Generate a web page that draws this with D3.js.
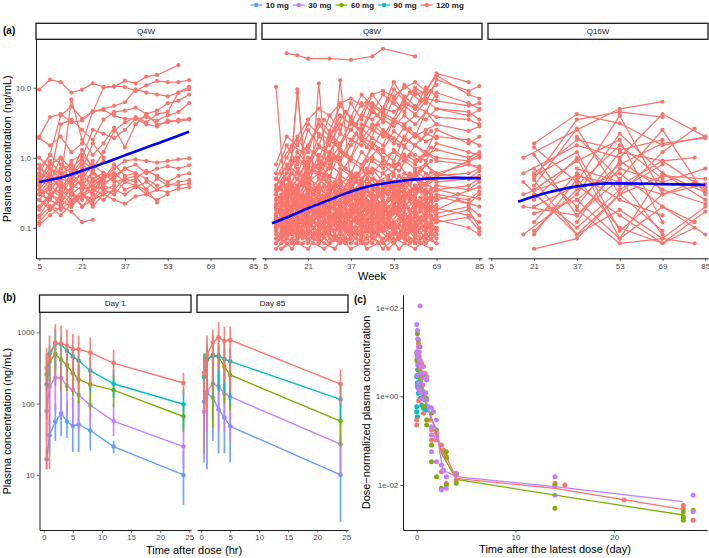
<!DOCTYPE html>
<html>
<head>
<meta charset="UTF-8">
<title>PK plots</title>
<script src="https://d3js.org/d3.v7.min.js"></script>
<style>
  body { margin: 0; background: #fff; }
  svg text { font-family: "Liberation Sans", Arial, sans-serif; }
</style>
</head>
<body>
<svg width="709" height="558"></svg>
<script>
// ---------- data ----------
var doses = ["10 mg", "30 mg", "60 mg", "90 mg", "120 mg"];
var doseColors = ["#619CFF", "#C77CFF", "#7CAE00", "#00BFC4", "#F8766D"];

// (a) individual trough concentrations by regimen
var regimens = ["Q4W", "Q8W", "Q16W"];
var weekTicks = [5, 21, 37, 53, 69, 85];

var weeksQ4W = [5, 9, 13, 17, 21, 25, 29, 33, 37, 41, 45, 49, 53, 57, 61];
var subjQ4W = [
  [9.4, 13, 12, 8.5, 9.4, 11.5, 10.3, 10.3, 12.6, 11.5, 14.4, 15.2, null, 21],
  [2.0, 3.8, 4.2, 3.2, 3.4, 4.5, 10.0, 10.5, 10.2, 9.0, 10.8, 12.5, 12.0, 12.0, 12.8],
  [0.6, 1.1, 4.0, 5.4, 3.6, 4.6, 5.0, 5.5, 6.2, 9.5, 8.5, 8.0, 7.5, 8.5, 10.3],
  [null, 0.5, 3.0, 3.5, 2.5, 1.8, 3.5, 4.5, 4.7, 5.2, 4.2, 4.7, 6.0, 6.5, 8.0],
  [1.9, 1.5, 2.0, 1.2, 1.6, 4.6, 4.8, 4.0, 3.6, 3.6, 3.8, 3.4, 4.0, 4.5, 6.0],
  [0.35, 0.55, 0.45, 6.8, 1.8, 1.1, 1.6, 2.7, 1.4, 3.0, 4.2, 3.0, 3.2, 3.5, 3.6],
  [0.5, 0.8, 1.0, 0.7, 1.0, 2.5, 2.2, 1.9, 2.5, 3.6, 3.0, 2.8, 3.4, 3.3, 3.5],
  [0.3, 0.4, 0.5, 0.6, 0.9, 0.7, 1.2, 2.4, 3.2, 3.8, 3.2, 4.2, 4.5, 8.5, 9.5],
  [0.45, 0.7, 0.6, 0.55, 0.8, 0.6, 0.5, 0.7, 0.9, 0.95, 0.9, 0.85, 0.9, 0.95, 0.98],
  [0.3, 0.35, 0.5, 0.45, 0.6, 0.5, 0.4, 0.55, 0.7, 0.8, 0.6, 0.7, 0.75, 0.7, 0.78],
  [0.25, 0.4, 0.3, 0.35, 0.5, 0.45, 0.55, 0.6, 0.45, 0.5, 0.65, 0.55, 0.45, 0.55, 0.6],
  [0.2, 0.3, 0.35, 0.25, 0.3, 0.4, 0.35, 0.3, 0.45, 0.4, 0.35, 0.5, 0.4, 0.45, 0.48],
  [0.15, 0.25, 0.2, 0.3, 0.28, 0.35, 0.3, 0.35, 0.3, 0.38, 0.45, 0.35, 0.42, 0.4, 0.43],
  [0.35, 0.3, 0.25, 0.2, 0.3, 0.25, 0.3, 0.25, 0.22, 0.28, 0.3, 0.35, 0.32, 0.36, 0.38],
  [0.5, 0.45, 0.6, 0.4, 0.35, 0.5, 0.6, 0.45, 0.5, 0.55, 0.35, 0.23],
  [0.11, 0.15, 0.2, 0.17, 0.12, 0.13],
  [0.14, 0.2, 0.18, 0.25, 0.3, 0.22],
  [0.25, 0.18, 0.3, 0.22, 0.35, 0.4, 0.5],
  [0.6, 0.5, 0.7, 0.8, 0.55, 0.9],
  [0.7, 1.1, 0.8, 0.6, 1.3, 0.7, 0.9],
  [0.4, 0.6, 0.35, 0.5, 0.7, 1.6, 1.0],
  [0.3, 0.25, 0.45, 0.3, 0.25, 0.5, 0.35, 0.4],
  [0.18, 0.3, 0.22, 0.4, 0.45, 0.3, 0.6, 0.5, 0.7],
  [0.55, 0.35, 0.28, 0.5, 0.4, 0.65, 0.45],
  [1.0, 0.7, 0.5, 0.9, 1.1, 0.75],
  [0.8, 0.45, 1.0, 0.4, 0.6, 0.35, 0.5, 0.6],
  [0.45, 0.9, 0.6, 0.7, 0.5, 0.8, 0.6, 0.55, 0.7, 0.6],
  [0.12, 0.18, 0.25, 0.2, 0.3, 0.25, 0.35, 0.3],
  [0.3, 0.5, 0.4, 0.3, 0.2, 0.25, 0.45, 0.5, 0.35, 0.4, 0.3, 0.25, 0.3],
  [0.2, 0.28, 0.45, 0.3, 0.4, 0.6, 0.4, 0.35, 0.5, 0.45],
  [0.7, 0.55, 0.35, 0.6, 0.4, 0.3, 0.5, 0.8, 0.55, 0.6, 0.5, 0.4],
  [0.25, 0.2, 0.15, 0.22, 0.3, 0.2, 0.3],
  [0.4, 0.2, 0.25, 0.35, 0.2, 0.3, 0.25, 0.35]
];

var weeksQ8W = [9, 13, 17, 21, 25, 29, 33, 37, 41, 45, 49, 53, 57, 61, 65, 69, 73, 77, 81, 85];
var subjQ8W = [
  [0.12, 0.08, 0.15, 0.1, 0.07, 0.12, 0.09, 0.14, 0.1, 0.08, 0.13, 0.09, 0.11, 0.07, 0.1, 0.09],
  [0.2, 0.15, 0.25, 0.12, 0.18, 0.3, 0.14, 0.2, 0.25, 0.16, 0.22, 0.3, 0.18, 0.24, 0.2, 0.28, null, null, 0.22, 0.3],
  [0.08, 0.06, 0.07, 0.09, 0.06, 0.08, 0.07, 0.06, 0.09, 0.07, 0.06, 0.08, 0.07, 0.06, 0.08, 0.06],
  [0.3, 0.22, 0.18, 0.35, 0.25, 0.2, 0.4, 0.3, 0.22, 0.35, 0.28, 0.45, 0.3, 0.38, 0.32, 0.4, null, null, 0.35, 0.45],
  [0.15, 0.25, 0.1, 0.2, 0.3, 0.12, 0.22, 0.16, 0.35, 0.2, 0.15, 0.25, 0.35, 0.2, 0.3, 0.18, null, 0.25, null, 0.2],
  [0.06, 0.1, 0.08, 0.12, 0.07, 0.1, 0.13, 0.08, 0.11, 0.15, 0.09, 0.12, 0.08, 0.14, 0.1, 0.12],
  [0.1, 0.14, 0.2, 0.09, 0.16, 0.11, 0.18, 0.25, 0.13, 0.19, 0.1, 0.16, 0.22, 0.12, 0.17, 0.21],
  [0.25, 0.35, 0.2, 0.28, 0.15, 0.32, 0.24, 0.4, 0.28, 0.2, 0.36, 0.26, 0.5, 0.3, 0.42, 0.35, null, null, 0.4, 0.5],
  [0.07, 0.09, 0.12, 0.06, 0.1, 0.08, 0.06, 0.11, 0.07, 0.13, 0.06, 0.09, 0.07, 0.1, 0.06, 0.08],
  [0.18, 0.12, 0.3, 0.22, 0.14, 0.2, 0.16, 0.12, 0.2, 0.26, 0.14, 0.18, 0.24, 0.15, 0.22, 0.16, null, null, 0.2, 0.15],
  [0.4, 0.3, 0.5, 0.35, 0.25, 0.45, 0.3, 0.55, 0.4, 0.3, 0.6, 0.45, 0.35, 0.5, 0.42, 0.55, null, null, 0.6, 0.7],
  [0.09, 0.13, 0.07, 0.16, 0.1, 0.14, 0.08, 0.12, 0.17, 0.09, 0.14, 0.11, 0.08, 0.15, 0.12, 0.1],
  [0.14, 0.1, 0.12, 0.18, 0.24, 0.15, 0.1, 0.2, 0.13, 0.18, 0.25, 0.12, 0.16, 0.1, 0.14, 0.19, null, null, 0.15, 0.12],
  [0.05, 0.07, 0.06, 0.05, 0.08, 0.06, 0.07, 0.05, 0.06, 0.08, 0.05, 0.07, 0.06, 0.05, 0.07, 0.06],
  [0.22, 0.16, 0.14, 0.25, 0.19, 0.28, 0.2, 0.15, 0.3, 0.22, 0.18, 0.32, 0.21, 0.27, 0.18, 0.25, null, 0.3, null, 0.26],
  [0.11, 0.18, 0.09, 0.13, 0.2, 0.1, 0.15, 0.09, 0.14, 0.11, 0.2, 0.1, 0.13, 0.18, 0.09, 0.15],
  [0.3, 0.2, 0.4, 0.6, 0.3, 0.25, 0.5, 0.35, 0.7, 0.4, 0.3, 0.55, 0.4, 0.65, 0.5, 0.6, null, null, 0.8, 0.7],
  [0.06, 0.08, 0.11, 0.07, 0.09, 0.06, 0.12, 0.08, 0.06, 0.1, 0.07, 0.06, 0.09, 0.11, 0.07, 0.09],
  [0.16, 0.22, 0.13, 0.11, 0.17, 0.22, 0.13, 0.3, 0.17, 0.12, 0.2, 0.27, 0.15, 0.2, 0.26, 0.14, null, null, 0.18, 0.1],
  [0.13, 0.09, 0.2, 0.15, 0.11, 0.09, 0.14, 0.18, 0.1, 0.13, 0.09, 0.2, 0.12, 0.09, 0.16, 0.13],
  [0.5, 0.35, 0.3, 0.45, 0.6, 0.4, 0.3, 0.5, 0.38, 0.7, 0.45, 0.35, 0.6, 0.5, 0.8, 0.55, null, null, 0.9, 1.1],
  [0.07, 0.11, 0.08, 0.14, 0.06, 0.09, 0.11, 0.07, 0.12, 0.08, 0.1, 0.06, 0.12, 0.08, 0.11, 0.07],
  [0.2, 0.28, 0.35, 0.22, 0.4, 0.26, 0.2, 0.32, 0.45, 0.25, 0.34, 0.22, 0.3, 0.4, 0.25, 0.35, null, 0.3, null, 0.38],
  [0.09, 0.07, 0.1, 0.13, 0.08, 0.16, 0.11, 0.09, 0.08, 0.12, 0.15, 0.1, 0.07, 0.11, 0.13, 0.1],
  [0.35, 0.5, 0.25, 0.4, 0.3, 0.55, 0.45, 0.3, 0.35, 0.5, 0.4, 0.3, 0.45, 0.35, 0.6, 0.45, null, null, 0.5, 0.65],
  [0.12, 0.16, 0.24, 0.14, 0.1, 0.13, 0.2, 0.15, 0.24, 0.14, 0.1, 0.17, 0.12, 0.22, 0.15, 0.13, null, null, 0.1, 0.08],
  [0.06, 0.09, 0.07, 0.08, 0.12, 0.07, 0.06, 0.09, 0.08, 0.06, 0.1, 0.08, 0.09, 0.06, 0.08, 0.1],
  [0.26, 0.18, 0.22, 0.3, 0.16, 0.24, 0.35, 0.2, 0.15, 0.28, 0.22, 0.17, 0.3, 0.24, 0.2, 0.3, null, null, 0.25, 0.33],
  [0.1, 0.12, 0.16, 0.22, 0.13, 0.18, 0.11, 0.15, 0.2, 0.12, 0.17, 0.22, 0.1, 0.16, 0.19, 0.12, null, null, 0.14, 0.09],
  [0.15, 0.11, 0.09, 0.14, 0.11, 0.17, 0.13, 0.1, 0.12, 0.16, 0.12, 0.09, 0.15, 0.12, 0.1, 0.14],
  [null, 31, 29, 26, null, 26, null, 25, null, 28, 36, null, null, 28],
  [10.3, 0.15, 0.3, 0.2, 0.25, 0.18, 0.22, 0.3, 0.25, 0.2, 0.35, 0.3, 0.4, 0.3, 0.35, 0.25],
  [0.2, 0.12, 9.5, 0.15, 0.3, 0.2, 0.15, 0.25, 0.4, 0.3, 0.2, 0.3, 0.25, 0.4, 0.3, 0.35],
  [0.1, 0.2, 8.5, 0.3, 0.5, 0.35, 0.4, 0.6, 0.5, 0.7, 0.6, 0.8, 0.9, 0.7, 0.8, 0.6, null, null, 0.5, 0.55],
  [0.25, 0.3, 0.2, 0.15, 11.5, 0.2, 0.25, 0.3, 0.35, 0.25, 0.3, 0.4, 0.3, 0.35, 0.3, 0.4],
  [0.15, 0.2, 0.25, 0.3, 0.2, 0.35, 12.8, 0.4, 0.3, 0.5, 0.45, 0.35, 0.5, 0.6, 0.4, 0.5],
  [0.5, 1.0, 2.0, 3.5, 5.0, 4.0, 6.0, 7.0, 5.5, 8.0, 9.0, 7.5, 10.0, 12.0, 9.0, 15.0, null, null, 8.0, 7.0],
  [0.3, 0.6, 1.2, 0.8, 2.0, 1.5, 3.0, 2.5, 4.0, 3.5, 5.0, 4.5, 6.0, 5.0, 7.0, 6.5, null, null, 5.5, 6.0],
  [0.2, 0.4, 0.3, 0.8, 0.6, 1.2, 1.0, 1.8, 1.5, 2.5, 2.0, 3.5, 3.0, 4.0, 3.5, 5.0, null, null, 4.5, 3.5],
  [0.4, 0.3, 0.7, 0.5, 1.1, 0.9, 1.5, 2.5, 1.8, 3.0, 2.2, 1.6, 2.8, 2.0, 2.5, 3.0, null, null, 2.4, 2.8],
  [0.6, 1.5, 0.8, 2.5, 1.5, 4.0, 2.5, 6.0, 3.5, 8.0, 5.0, 12.0, 7.0, 10.0, 8.0, 11.0],
  [0.25, 0.35, 0.6, 0.45, 0.9, 0.7, 1.3, 1.0, 1.8, 1.4, 2.5, 1.9, 1.5, 2.2, 1.7, 2.0, null, null, 1.8, 1.5],
  [0.15, 0.3, 0.25, 0.5, 0.4, 0.8, 0.6, 1.0, 0.8, 1.4, 1.0, 1.2, 0.9, 1.5, 1.1, 1.3, null, null, 1.0, 1.2],
  [null, null, 0.5, 1.0, 0.7, 2.0, 1.5, 3.5, 2.2, 5.0, 3.2, 7.0, 4.5, 9.0, 6.0, 13.0, null, null, 9.0, 10.5],
  [0.35, 0.5, 0.4, 0.7, 0.55, 1.0, 0.8, 0.6, 1.2, 0.9, 0.7, 1.3, 1.0, 0.8, 1.2, 0.9, null, null, 0.8, 0.75],
  [0.4, 0.8, 0.6, 1.4, 1.0, 2.2, 1.6, 3.2, 2.5, 4.5, 3.5, 2.8, 4.0, 3.0, 4.5, 3.8, null, null, 3.5, 3.0],
  [null, null, null, 1.5, 3.0, 2.0, 4.0, 3.0, 6.0, 4.5, 8.0, 6.0, 11.0, 8.0, 9.0, 16.0, null, null, 12.0],
  [0.12, 0.2, 0.3, 0.22, 0.4, 0.32, 0.55, 0.45, 0.7, 0.6, 0.9, 0.75, 1.1, 0.9, 1.2, 1.0, null, null, 0.9, 1.0],
  [0.2, 0.3, 0.5, 0.9, 1.5, 1.2, 2.2, 1.8, 3.0, 2.6, 4.0, 3.2, 5.5, 4.2, 6.5, 5.0, null, null, 4.0, 4.8],
  [0.5, 0.4, 0.9, 0.7, 0.6, 1.8, 1.3, 1.0, 2.6, 1.9, 1.5, 3.5, 2.6, 2.0, 4.5, 3.0],
  [0.3, 0.5, 0.35, 0.6, 0.8, 0.55, 1.2, 0.9, 0.7, 1.6, 1.2, 0.9, 2.0, 1.5, 1.2, 2.5, null, null, 1.6, 2.0],
  [null, 0.7, 1.8, 1.2, 3.5, 2.4, 5.5, 3.8, 8.0, 5.5, 4.2, 9.5, 6.5, 5.0, 10.0, 7.5],
  [0.15, 0.25, 0.2, 0.45, 0.35, 0.3, 0.7, 0.55, 0.45, 1.0, 0.8, 0.6, 1.4, 1.1, 0.9, 1.6, null, null, 1.2, 1.1],
  [0.8, 2.0, 1.5, 3.0, 2.2, 1.8, 4.0, 3.0, 2.4, 6.0, 4.5, 3.5, 7.5, 5.5, 4.5, 8.5, null, null, 6.0, 5.0],
  [0.4, 0.6, 1.0, 0.75, 1.4, 1.1, 0.9, 1.5, 2.0, 1.6, 1.3, 2.4, 1.8, 1.5, 2.2, 1.9]
];
// Q8W subjects sampled on the in-between visits
var weeksQ8Wb = [11, 15, 19, 23, 27, 31, 35, 39, 43, 47, 51, 55, 59, 63, 67];
var subjQ8Wb = [
  [0.08, 0.12, 0.09, 0.15, 0.1, 0.07, 0.11, 0.14, 0.09, 0.12, 0.08, 0.13, 0.1, 0.07, 0.11],
  [0.2, 0.3, 0.18, 0.25, 0.4, 0.22, 0.3, 0.2, 0.35, 0.28, 0.45, 0.3, 0.25, 0.38, 0.3],
  [0.05, 0.06, 0.08, 0.06, 0.05, 0.07, 0.06, 0.09, 0.05, 0.06, 0.08, 0.05, 0.07, 0.06, 0.05],
  [0.15, 0.1, 0.2, 0.13, 0.17, 0.25, 0.14, 0.19, 0.12, 0.22, 0.16, 0.28, 0.18, 0.13, 0.2],
  [0.35, 0.25, 0.45, 0.3, 0.6, 0.4, 0.3, 0.5, 0.7, 0.45, 0.55, 0.8, 0.5, 0.65, 0.9],
  [0.1, 0.08, 0.13, 0.18, 0.11, 0.09, 0.16, 0.12, 0.2, 0.14, 0.1, 0.17, 0.24, 0.13, 0.18],
  [0.06, 0.09, 0.07, 0.1, 0.08, 0.12, 0.07, 0.06, 0.1, 0.08, 0.11, 0.07, 0.09, 0.12, 0.08],
  [0.25, 0.18, 0.3, 0.22, 0.16, 0.28, 0.35, 0.24, 0.18, 0.3, 0.4, 0.26, 0.32, 0.22, 0.36],
  [0.12, 0.2, 0.15, 0.1, 0.18, 0.13, 0.22, 0.3, 0.16, 0.12, 0.2, 0.15, 0.11, 0.19, 0.25],
  [0.45, 0.6, 0.4, 0.8, 0.55, 1.0, 0.7, 0.5, 0.9, 1.3, 0.8, 0.65, 1.1, 0.9, 1.4],
  [0.07, 0.05, 0.09, 0.07, 0.13, 0.08, 0.06, 0.1, 0.07, 0.09, 0.14, 0.08, 0.06, 0.1, 0.07],
  [0.18, 0.14, 0.22, 0.3, 0.2, 0.15, 0.26, 0.18, 0.34, 0.22, 0.17, 0.25, 0.3, 0.2, 0.28],
  [0.3, 0.4, 0.25, 0.35, 0.5, 0.32, 0.28, 0.45, 0.6, 0.38, 0.3, 0.55, 0.42, 0.7, 0.5],
  [0.09, 0.14, 0.11, 0.08, 0.12, 0.16, 0.1, 0.13, 0.09, 0.15, 0.11, 0.08, 0.14, 0.1, 0.12],
  [0.14, 0.2, 0.28, 0.16, 0.24, 0.18, 0.14, 0.26, 0.2, 0.32, 0.16, 0.22, 0.18, 0.27, 0.15],
  [0.6, 0.9, 0.5, 1.2, 0.8, 1.6, 1.1, 2.2, 1.4, 3.0, 2.0, 1.5, 2.6, 1.8, 2.4],
  [0.05, 0.07, 0.06, 0.08, 0.06, 0.05, 0.09, 0.07, 0.06, 0.08, 0.05, 0.07, 0.1, 0.06, 0.08],
  [0.22, 0.16, 0.12, 0.2, 0.28, 0.18, 0.24, 0.14, 0.2, 0.17, 0.26, 0.19, 0.14, 0.23, 0.18],
  [0.11, 0.09, 0.15, 0.12, 0.09, 0.14, 0.19, 0.12, 0.1, 0.16, 0.13, 0.2, 0.12, 0.17, 0.13],
  [0.4, 0.3, 0.55, 0.35, 0.28, 0.45, 0.35, 0.6, 0.42, 0.33, 0.5, 0.4, 0.58, 0.45, 0.62],
  [0.08, 0.11, 0.16, 0.1, 0.13, 0.09, 0.12, 0.17, 0.11, 0.08, 0.13, 0.18, 0.1, 0.14, 0.09],
  [0.26, 0.35, 0.2, 0.3, 0.22, 0.4, 0.28, 0.35, 0.5, 0.3, 0.42, 0.33, 0.6, 0.4, 0.5],
  [0.16, 0.12, 0.18, 0.25, 0.15, 0.21, 0.3, 0.17, 0.24, 0.19, 0.14, 0.22, 0.28, 0.18, 0.24],
  [0.9, 1.5, 1.2, 2.0, 3.5, 2.5, 4.5, 3.0, 6.0, 4.0, 7.0, 5.0, 8.5, 6.5, 9.0],
  [0.07, 0.1, 0.08, 0.12, 0.09, 0.15, 0.1, 0.08, 0.13, 0.1, 0.07, 0.11, 0.09, 0.14, 0.1]
];

var weeksQ16W = [17, 21, 37, 53, 69, 81, 85];
var subjQ16W = [
  [null, 1.6, 4.2, 3.1, 1.5, null, 2.0],
  [1.0, null, 2.5, 5.0, 6.3, null, null],
  [null, 0.5, 3.5, 4.5, 3.8, null, null],
  [null, 1.4, 0.45, 4.0, 0.3, null, null],
  [0.6, null, 1.5, 1.0, 4.2, null, 2.0],
  [null, 0.4, 2.6, 0.3, 1.2, 2.6, null],
  [null, 0.35, 0.9, 1.8, 0.12, null, null],
  [0.2, null, 0.15, 0.5, 2.5, null, 0.3],
  [null, 0.7, 0.2, 1.2, 0.9, null, 0.35],
  [null, 0.25, 1.0, 0.07, 0.6, null, 0.32],
  [null, 0.12, 0.6, 0.25, 0.15, null, null],
  [0.08, null, 0.3, 2.2, 0.6, null, 0.25],
  [null, 0.09, 0.35, 0.6, 0.2, 0.12, null],
  [null, 0.08, 0.5, 0.1, 0.06, null, 0.17],
  [0.3, null, 0.55, 0.4, 0.9, 1.0, null],
  [null, 0.55, 1.2, 0.09, 0.3, null, 0.42],
  [null, 1.1, 0.15, 0.7, 0.45, null, 0.7],
  [null, 0.48, 0.08, 0.18, 0.07, null, 0.2],
  [null, null, 0.4, 0.15, 0.06, 0.1, null],
  [null, 0.3, 0.1, 0.35, 0.8, null, null],
  [null, null, 0.7, 0.45, 0.3, 0.45, 0.38],
  [null, 0.16, 0.25, 0.8, 1.6, null, 1.9],
  [null, null, 2.0, 0.5, 0.08, null, null],
  [0.45, null, 0.08, 0.3, 0.55, null, 0.5],
  [null, 0.6, 1.8, 1.3, 1.8, null, null],
  [null, null, 0.25, 0.07, 0.2, null, 0.08],
  [null, 0.05, 0.07, 0.3, 0.09, null, null],
  [null, null, 0.12, 0.9, 0.35, null, 0.22],
  [null, 0.2, 0.4, 1.5, 0.5, null, null],
  [null, null, 0.18, 0.06, 0.07, 0.06, null]
];

// loess trend: [week, ng/mL]
var smoothQ4W = [[5, 0.45], [13, 0.52], [21, 0.65], [29, 0.83], [37, 1.08], [45, 1.4], [53, 1.8], [61, 2.35]];
var smoothQ8W = [[7.5, 0.116], [13, 0.14], [21, 0.19], [29, 0.25], [37, 0.33], [45, 0.4], [53, 0.45], [61, 0.49], [69, 0.51], [77, 0.515], [85.5, 0.51]];
var smoothQ16W = [[15, 0.235], [25, 0.31], [37, 0.39], [49, 0.43], [53, 0.43], [69, 0.42], [85, 0.41]];

// (b) mean profiles with error bars; rows = doses
var days = ["Day 1", "Day 85"];
var hourTicks = [0, 5, 10, 15, 20, 25];
var timesDay1 = [0.5, 1, 2, 3, 4, 5, 6, 8, 12, 24];
var meanDay1 = [
  [16.6, 36, 56, 73, 56, 49, 51, 42, 25, 10],
  [79, 172, 231, 231, 176, 155, 132, 95, 57, 25],
  [257, 387, 496, 409, 348, 266, 218, 186, 155, 66],
  [186, 500, 700, 680, 550, 460, 400, 290, 190, 98],
  [315, 440, 720, 690, 650, 580, 580, 520, 370, 195]
];
var loDay1 = [
  [12, 20, 30, 35, 33, 21, 21, 22, 20, 3.8],
  [30, 50, 80, 60, 70, 50, 40, 50, 35, 12],
  [150, 200, 250, 150, 150, 130, 100, 80, 90, 40],
  [60, 200, 300, 250, 300, 250, 200, 150, 120, 45],
  [12, 12, 180, 150, 200, 150, 160, 170, 230, 130]
];
var hiDay1 = [
  [25, 60, 100, 150, 110, 120, 110, 80, 30, 22],
  [150, 300, 500, 500, 400, 350, 300, 200, 100, 45],
  [400, 550, 700, 600, 550, 450, 350, 300, 250, 100],
  [500, 650, 1100, 900, 700, 650, 600, 450, 300, 160],
  [600, 900, 1300, 1250, 1100, 950, 900, 850, 570, 270]
];
var timesDay85 = [0.5, 1, 2, 3, 4, 5, 24];
var meanDay85 = [
  [106, 139, 122, 83, 64, 48, 10],
  [77, 147, 192, 172, 139, 125, 27],
  [238, 409, 480, 455, 330, 252, 57],
  [238, 431, 465, 470, 422, 391, 115],
  [271, 480, 716, 850, 755, 780, 188]
];
var loDay85 = [
  [20, 12, 30, 20, 20, 15, 2.2],
  [15, 40, 60, 40, 40, 30, 10],
  [150, 150, 45, 150, 100, 80, 25],
  [100, 200, 200, 150, 150, 100, 60],
  [20, 80, 200, 300, 200, 150, 100]
];
var hiDay85 = [
  [200, 250, 250, 250, 200, 200, 35],
  [200, 300, 400, 450, 350, 300, 60],
  [500, 600, 700, 650, 550, 450, 110],
  [500, 700, 900, 800, 700, 600, 200],
  [450, 900, 1100, 1400, 1200, 1200, 300]
];

// (c) dose-normalized concentration vs time after latest dose: [day, value]
var dayTicks = [0, 10, 20];
var ptsC = [
  [[0.08, 3], [0.17, 2], [0.3, 1.3]],
  [[0.34, 109], [0, 42], [0.07, 31], [0.1, 20], [0.17, 13.2], [0.27, 10.2], [0, 10.2], [0.34, 6.6], [0.5, 4.7],
   [0.68, 3.3], [0.84, 2.55], [1.0, 2.33], [0.5, 1.39], [0.84, 1.17], [1.0, 0.83], [1.18, 0.585], [1.5, 0.555],
   [1.69, 0.45], [1.5, 0.207], [2.0, 0.292], [1.5, 0.134], [2.0, 0.123], [1.5, 0.0565], [2.0, 0.0336],
   [2.5, 0.0283], [2.7, 0.0218], [3.0, 0.0154], [3.0, 0.0084], [2.5, 0.0077], [4.0, 0.0183], [14, 0.0154],
   [14, 0.0059], [28, 0.0059], [28, 0.0025], [0.05, 8], [0.1, 5], [0.2, 3], [0.15, 1.5], [0.3, 2], [0.4, 1.2], [0.6, 0.9]],
  [[0.07, 26], [0.17, 18.7], [0.27, 13.2], [0, 6.6], [0.34, 2.33], [0.5, 1.39], [0.68, 0.98], [0.84, 0.83],
   [1.0, 0.292], [1.0, 0.226], [1.5, 0.414], [1.5, 0.080], [1.5, 0.0336], [2.0, 0.174], [2.0, 0.0154],
   [2.5, 0.0084], [3.0, 0.0565], [3.0, 0.0436], [3.0, 0.0100], [4.0, 0.0168], [4.0, 0.0109], [14, 0.0100],
   [14, 0.0030], [27, 0.0025], [27, 0.0019], [27, 0.0016], [28, 0.0027], [0.1, 10], [0.2, 4], [0.3, 1.5],
   [0.5, 3], [0.7, 0.6], [0.9, 1.2], [1.0, 0.9]],
  [[0, 2.8], [0.07, 1.65], [0.17, 1.17], [0, 0.585], [0, 0.45], [0.07, 0.348], [0.34, 0.90], [0.5, 0.64],
   [0.68, 0.536], [1.0, 0.49], [0.1, 4], [0.2, 6], [0.05, 2.0]],
  [[0.17, 15.7], [0.34, 13.2], [0, 9.3], [0.5, 5.5], [0.34, 3.9], [0.68, 4.7], [0.84, 3.3], [1.0, 2.8],
   [0.17, 1.96], [0.5, 1.39], [0.68, 0.414], [0, 0.292], [0, 0.226], [1.35, 0.292], [1.5, 0.174], [1.5, 0.104],
   [2.0, 0.146], [2.0, 0.104], [2.5, 0.080], [2.7, 0.0615], [2.87, 0.0518], [3.0, 0.040], [2.5, 0.020],
   [3.0, 0.0109], [4.0, 0.0183], [4.0, 0.0130], [14, 0.0109], [14, 0.0092], [15, 0.0100], [21, 0.0046],
   [27, 0.0035], [27, 0.0030], [28, 0.0016], [0.1, 6], [0.25, 8], [0.4, 2.5], [0.6, 1.8], [0.8, 1.0], [0.05, 3], [0.2, 0.8]]
];
var linesC = [
  [[0.07, 5.5], [0.27, 3.0], [0.5, 1.8]],
  [[0.07, 7.85], [0.27, 3.9], [0.5, 2.33], [1.0, 0.70], [1.5, 0.292], [2.0, 0.19], [2.36, 0.0518], [2.7, 0.019],
   [3.0, 0.020], [4.0, 0.0154], [14, 0.0092], [27, 0.0042]],
  [[0.07, 6.6], [0.27, 3.3], [0.5, 1.96], [1.0, 0.64], [1.5, 0.319], [2.0, 0.16], [2.5, 0.0518], [3.0, 0.0336],
   [4.0, 0.0134], [14, 0.0059], [27, 0.0021]],
  [[0.07, 6.1], [0.27, 3.3], [0.5, 1.96], [1.0, 0.585]],
  [[0.07, 6.1], [0.27, 3.6], [0.5, 2.33], [1.0, 0.70], [1.5, 0.292], [2.0, 0.174], [2.5, 0.0565], [3.0, 0.0436],
   [4.0, 0.0141], [14, 0.0084], [27, 0.0028]]
];

// ---------- drawing ----------
var svg = d3.select("svg");
var tickCol = "#4D4D4D";

function styleAxis(g) {
  g.attr("font-size", null).attr("font-family", null);
  g.select(".domain").attr("stroke", "#000").attr("stroke-width", 0.9);
  g.selectAll(".tick line").attr("stroke", "#333").attr("stroke-width", 0.8);
  g.selectAll(".tick text").attr("fill", tickCol).style("font-size", "8px");
}

function strip(x0, x1, y0, y1, label) {
  svg.append("rect").attr("x", x0).attr("y", y0).attr("width", x1 - x0).attr("height", y1 - y0)
    .attr("fill", "#fff").attr("stroke", "#1a1a1a").attr("stroke-width", 1.3);
  svg.append("text").attr("x", (x0 + x1) / 2).attr("y", (y0 + y1) / 2).attr("dy", "0.35em")
    .attr("text-anchor", "middle").style("font-size", "8px").attr("fill", "#1a1a1a").text(label);
}

function panelLabel(x, y, t) {
  svg.append("text").attr("x", x).attr("y", y).style("font-size", "10px").style("font-weight", "bold").text(t);
}

// legend (centered on the figure)
var leg = svg.append("g");
var lx = 0;
doses.forEach(function (d, i) {
  var it = leg.append("g").attr("transform", "translate(" + lx + ",0)");
  it.append("line").attr("x1", 0).attr("x2", 12).attr("y1", 5).attr("y2", 5)
    .attr("stroke", doseColors[i]).attr("stroke-width", 1.3);
  it.append("circle").attr("cx", 6).attr("cy", 5).attr("r", 2.2).attr("fill", doseColors[i]);
  var t = it.append("text").attr("x", 15.5).attr("y", 5).attr("dy", "0.35em")
    .style("font-size", "8px").style("font-weight", "bold").attr("fill", "#1a1a1a").text(d);
  lx += 15.5 + t.node().getComputedTextLength() + 4;
});
leg.attr("transform", "translate(" + (357 - (lx - 4) / 2) + ",0)");

// ---- panel (a) ----
var aPanels = [[36, 256], [262, 482], [488, 708]];
var aTop = 39.3, aBot = 258.3;
var yA = d3.scaleLog().domain([0.0366, 49.1]).range([aBot, aTop]);
var aData = [
  [[weeksQ4W, subjQ4W]],
  [[weeksQ8W, subjQ8W], [weeksQ8Wb, subjQ8Wb]],
  [[weeksQ16W, subjQ16W]]
];
var aSmooth = [smoothQ4W, smoothQ8W, smoothQ16W];
var red = doseColors[4];

panelLabel(3, 33.5, "(a)");

aPanels.forEach(function (p, k) {
  var x = d3.scaleLinear().domain([3.77, 86]).range(p);
  strip(p[0], p[1], 23.3, aTop, regimens[k]);
  var g = svg.append("g");
  var line = d3.line().x(function (d) { return x(d[0]); }).y(function (d) { return yA(d[1]); });
  aData[k].forEach(function (set) {
    var weeks = set[0];
    set[1].forEach(function (s) {
      var pts = s.map(function (v, i) { return [weeks[i], v]; }).filter(function (d) { return d[1] != null; });
      g.append("path").attr("d", line(pts)).attr("fill", "none").attr("stroke", red).attr("stroke-width", 1.25);
      g.selectAll(null).data(pts).enter().append("circle")
        .attr("cx", function (d) { return x(d[0]); }).attr("cy", function (d) { return yA(d[1]); })
        .attr("r", 2.1).attr("fill", red);
    });
  });
  g.append("path").attr("d", line.curve(d3.curveMonotoneX)(aSmooth[k]))
    .attr("fill", "none").attr("stroke", "#0000FF").attr("stroke-width", 2.6);

  svg.append("g").attr("transform", "translate(0," + aBot + ")")
    .call(d3.axisBottom(x).tickValues(weekTicks).tickSize(2.7).tickSizeOuter(0).tickPadding(2))
    .call(styleAxis);
  if (k === 0) {
    svg.append("g").attr("transform", "translate(" + p[0] + ",0)")
      .call(d3.axisLeft(yA).tickValues([0.1, 1, 10]).tickFormat(d3.format(".1f"))
        .tickSize(2.7).tickSizeOuter(0).tickPadding(2))
      .call(styleAxis);
  }
});

svg.append("text").attr("transform", "translate(10.5," + (aTop + aBot) / 2 + ") rotate(-90)")
  .attr("text-anchor", "middle").style("font-size", "11px").text("Plasma concentration (ng/mL)");
svg.append("text").attr("x", 372).attr("y", 280).attr("text-anchor", "middle")
  .style("font-size", "11px").text("Week");

// ---- panel (b) ----
var bPanels = [[39.5, 191], [197, 348]];
var bTop = 312.3, bBot = 530;
var yB = d3.scaleLog().domain([1.69, 1910]).range([bBot, bTop]);
var bData = [[timesDay1, meanDay1, loDay1, hiDay1], [timesDay85, meanDay85, loDay85, hiDay85]];

panelLabel(3, 301, "(b)");

bPanels.forEach(function (p, k) {
  var x = d3.scaleLinear().domain([-0.72, 25.29]).range(p);
  strip(p[0], p[1], 295, bTop, days[k]);
  var g = svg.append("g");
  var t = bData[k][0];
  var line = d3.line().x(function (d) { return x(d[0]); }).y(function (d) { return yB(d[1]); });
  doses.forEach(function (d, i) {
    var c = doseColors[i];
    t.forEach(function (tt, j) {
      g.append("line").attr("x1", x(tt)).attr("x2", x(tt))
        .attr("y1", yB(bData[k][2][i][j])).attr("y2", yB(bData[k][3][i][j]))
        .attr("stroke", c).attr("stroke-width", 1.7).attr("opacity", 0.9);
    });
    var pts = t.map(function (tt, j) { return [tt, bData[k][1][i][j]]; });
    g.append("path").attr("d", line(pts)).attr("fill", "none").attr("stroke", c).attr("stroke-width", 1.4);
    g.selectAll(null).data(pts).enter().append("circle")
      .attr("cx", function (q) { return x(q[0]); }).attr("cy", function (q) { return yB(q[1]); })
      .attr("r", 2.3).attr("fill", c);
  });
  svg.append("g").attr("transform", "translate(0," + bBot + ")")
    .call(d3.axisBottom(x).tickValues(hourTicks).tickSize(2.7).tickSizeOuter(0).tickPadding(2))
    .call(styleAxis);
  if (k === 0) {
    svg.append("g").attr("transform", "translate(" + p[0] + ",0)")
      .call(d3.axisLeft(yB).tickValues([10, 100, 1000]).tickFormat(d3.format("d"))
        .tickSize(2.7).tickSizeOuter(0).tickPadding(2))
      .call(styleAxis);
  }
});

svg.append("text").attr("transform", "translate(10.5," + (bTop + bBot) / 2 + ") rotate(-90)")
  .attr("text-anchor", "middle").style("font-size", "11px").text("Plasma concentration (ng/mL)");
svg.append("text").attr("x", 194).attr("y", 553.5).attr("text-anchor", "middle")
  .style("font-size", "11px").text("Time after dose (hr)");

// ---- panel (c) ----
var cTop = 295, cBot = 530, cL = 403, cR = 707;
var xC = d3.scaleLinear().domain([-1.39, 29.4]).range([cL, cR]);
var yC = d3.scaleLog().domain([Math.pow(10, -3.016), Math.pow(10, 2.287)]).range([cBot, cTop]);
var gc = svg.append("g");
var lineC = d3.line().x(function (d) { return xC(d[0]); }).y(function (d) { return yC(d[1]); });

panelLabel(354, 303, "(c)");

[3, 4, 2, 0, 1].forEach(function (i) {
  gc.selectAll(null).data(ptsC[i]).enter().append("circle")
    .attr("cx", function (d) { return xC(d[0]); }).attr("cy", function (d) { return yC(d[1]); })
    .attr("r", 2.5).attr("fill", doseColors[i]);
});
[0, 3, 2, 4, 1].forEach(function (i) {
  gc.append("path").attr("d", lineC(linesC[i])).attr("fill", "none")
    .attr("stroke", doseColors[i]).attr("stroke-width", 1.3);
});

svg.append("g").attr("transform", "translate(0," + cBot + ")")
  .call(d3.axisBottom(xC).tickValues(dayTicks).tickSize(2.7).tickSizeOuter(0).tickPadding(2))
  .call(styleAxis);
svg.append("g").attr("transform", "translate(" + cL + ",0)")
  .call(d3.axisLeft(yC).tickValues([0.01, 1, 100])
    .tickFormat(function (d) { return d === 100 ? "1e+02" : d === 1 ? "1e+00" : "1e-02"; })
    .tickSize(2.7).tickSizeOuter(0).tickPadding(2))
  .call(styleAxis);

svg.append("text").attr("transform", "translate(370," + (cTop + cBot) / 2 + ") rotate(-90)")
  .attr("text-anchor", "middle").style("font-size", "11px").text("Dose\u2212normalized plasma concentration");
svg.append("text").attr("x", (cL + cR) / 2).attr("y", 553).attr("text-anchor", "middle")
  .style("font-size", "11px").text("Time after the latest dose (day)");
</script>
</body>
</html>
